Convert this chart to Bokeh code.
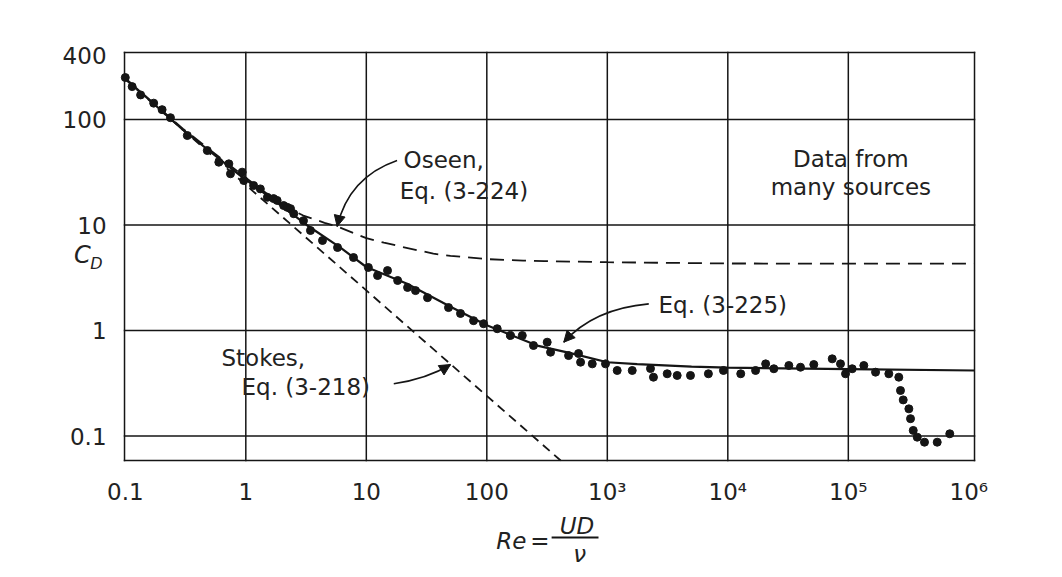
from bokeh.plotting import figure
from bokeh.models import (Range1d, FixedTicker, CustomJSTickFormatter, Label, Arrow,
                          NormalHead, ColumnDataSource)
from bokeh.embed import file_html
from bokeh.resources import INLINE

# ---------------- data ----------------
x_tick_vals = [0.1, 1, 10, 100, 1e3, 1e4, 1e5, 1e6]
x_tick_labels = ["0.1", "1", "10", "100", "10³", "10⁴", "10⁵", "10⁶"]
y_tick_vals = [0.1, 1, 10, 100, 400]
y_tick_labels = ["0.1", "1", "10", "100", "400"]

# extent of the boxed plotting area (data units) and its grid
box_x = [0.0985, 1.115e6]
box_y = [0.0586, 431]
grid_x = [1, 10, 100, 1e3, 1e4, 1e5]
grid_y = [0.1, 1, 10, 100]

stokes_re = [0.1, 1, 10, 100, 410]
stokes_cd = [240, 24, 2.4, 0.24, 0.0586]

oseen_re = [0.1, 0.3, 1, 2, 3, 4.5, 6, 10, 14, 20, 36, 50, 100, 200, 300, 1000, 1e4, 1e5, 1.115e6]
oseen_cd = [245, 82, 28, 15.5, 12.3, 10.5, 9.5, 7.5, 6.8, 6.2, 5.35, 5.1, 4.75, 4.6, 4.55, 4.44, 4.32, 4.3, 4.3]

eq225_re = [0.1, 0.3, 0.9, 2, 3.24, 6.1, 10, 21.8, 50, 100, 262, 495, 1000, 1770, 5000, 1e4, 1e5, 1.115e6]
eq225_cd = [245, 80, 29.4, 15, 9.9, 6.1, 4.0, 2.77, 1.68, 1.12, 0.72, 0.61, 0.50, 0.48, 0.455, 0.445, 0.43, 0.418]

data_re = [0.1, 0.114, 0.134, 0.172, 0.202, 0.237, 0.327, 0.479, 0.597, 0.723, 0.746, 0.933,
           0.962, 1.16, 1.32, 1.51, 1.70, 1.82, 2.06, 2.21, 2.35, 2.50, 3.01, 3.44, 4.33, 5.77,
           7.83, 10.4, 12.4, 15.0, 18.2, 22.0, 25.6, 32.2, 48.1, 60.5, 77.6, 94.0, 122, 157,
           197, 244, 317, 338, 477, 577, 600, 750, 966, 1208, 1610, 2282, 2415, 3140, 3800,
           4900, 6900, 9200, 12800, 17000, 20600, 24100, 32100, 40100, 51700, 73500, 86100,
           94800, 107700, 134500, 168300, 216800, 262400, 271000, 285500, 318000, 328300,
           345700, 373200, 428700, 546700, 695000]
data_cd = [250, 205, 171, 143, 124, 104, 70.5, 50.8, 39.4, 38.0, 30.6, 31.7,
           26.4, 23.7, 22.0, 18.3, 17.8, 17.1, 15.3, 14.7, 14.3, 12.8, 11.0, 8.87, 7.13, 6.12,
           4.92, 3.96, 3.32, 3.70, 2.98, 2.56, 2.39, 2.05, 1.65, 1.45, 1.24, 1.16, 1.04, 0.897,
           0.897, 0.721, 0.775, 0.623, 0.579, 0.605, 0.501, 0.483, 0.483, 0.418, 0.418, 0.436,
           0.361, 0.389, 0.375, 0.375, 0.389, 0.418, 0.389, 0.418, 0.483, 0.434, 0.466, 0.449,
           0.476, 0.539, 0.483, 0.389, 0.434, 0.466, 0.403, 0.389, 0.361, 0.270, 0.220, 0.181,
           0.146, 0.113, 0.0975, 0.0874, 0.0874, 0.105]

INK = "#151515"
TXT = "#222222"
FONT = "DejaVu Sans"

# frame covers the whole canvas; the boxed area and its grid are drawn as segments
p = figure(width=1062, height=577, x_axis_type="log", y_axis_type="log",
           x_range=Range1d(0.00921, 5.99e6), y_range=Range1d(0.00456, 1343),
           output_backend="svg", toolbar_location=None,
           min_border_left=0, min_border_right=0, min_border_top=0, min_border_bottom=0)
p.background_fill_color = "white"
p.border_fill_color = "white"
p.outline_line_color = None
p.xgrid.visible = False
p.ygrid.visible = False

# axes fixed on the box edges
p.xaxis.fixed_location = box_y[0]
p.yaxis.fixed_location = box_x[0]
for ax, vals, labs in [(p.xaxis[0], x_tick_vals, x_tick_labels), (p.yaxis[0], y_tick_vals, y_tick_labels)]:
    ax.ticker = FixedTicker(ticks=vals)
    ax.formatter = CustomJSTickFormatter(args=dict(vals=vals, labs=labs), code="""
        for (let i = 0; i < vals.length; i++) {
            if (Math.abs(Math.log10(tick) - Math.log10(vals[i])) < 1e-6) return labs[i];
        }
        return '';
    """)
    ax.major_tick_line_color = None
    ax.minor_tick_line_color = None
    ax.axis_line_color = None
    ax.major_label_text_font = FONT
    ax.major_label_text_font_size = "23px"
    ax.major_label_text_color = TXT
    ax.major_label_standoff = 12

# grid lines and box
vx = grid_x + box_x
hy = grid_y + box_y
p.segment(x0=vx, y0=[box_y[0]] * len(vx), x1=vx, y1=[box_y[1]] * len(vx),
          line_color=INK, line_width=1.5, line_cap="square")
p.segment(x0=[box_x[0]] * len(hy), y0=hy, x1=[box_x[1]] * len(hy), y1=hy,
          line_color=INK, line_width=1.5, line_cap="square")

# curves
p.line(stokes_re, stokes_cd, line_color=INK, line_width=1.8, line_dash="9 6")
p.line(oseen_re, oseen_cd, line_color=INK, line_width=1.8, line_dash="14 8")
p.line(eq225_re, eq225_cd, line_color=INK, line_width=2.2)
p.scatter(data_re, data_cd, size=8, fill_color=INK, line_color=INK, marker="circle")

# annotation arrows (curved)
arr = ColumnDataSource(dict(
    x0=[18.0, 16.9, 2208], y0=[40.9, 0.313, 1.79],
    x1=[5.73, 50.0, 435], y1=[9.68, 0.476, 0.775],
    cx=[7.16, 32.0, 773], cy=[28.4, 0.348, 1.61]))
p.quadratic(x0="x0", y0="y0", x1="x1", y1="y1", cx="cx", cy="cy", source=arr,
            line_color=INK, line_width=1.6)
for i in range(3):
    p.add_layout(Arrow(end=NormalHead(size=11, fill_color=INK, line_color=INK),
                       x_start=arr.data["cx"][i], y_start=arr.data["cy"][i],
                       x_end=arr.data["x1"][i], y_end=arr.data["y1"][i], line_alpha=0))

def lab(x, y, t, size="23px", align="left", style="normal"):
    p.add_layout(Label(x=x, y=y, text=t, text_font=FONT, text_font_size=size,
                       text_color=TXT, text_align=align, text_baseline="middle",
                       text_font_style=style))

lab(20.4, 40.9, "Oseen,")
lab(18.9, 21.2, "Eq. (3-224)")
lab(0.628, 0.543, "Stokes,")
lab(0.921, 0.290, "Eq. (3-218)")
lab(2661, 1.76, "Eq. (3-225)")
lab(105000, 42.7, "Data from", align="center")
lab(105000, 22.7, "many sources", align="center")

# axis titles
lab(0.0441, 5.25, "C", size="24px", align="center", style="italic")
lab(0.0577, 4.32, "D", size="16px", align="center", style="italic")
lab(160, 0.0102, "Re", align="center", style="italic")
lab(276, 0.0102, "=", align="center")
lab(560, 0.01418, "UD", align="center", style="italic")
lab(590, 0.00769, "ν", align="center", style="italic")
p.add_layout(Arrow(start=None, end=None, x_start=345, y_start=0.01091, x_end=845, y_end=0.01091,
                   line_color=INK, line_width=2))

open("out.html", "w").write(file_html(p, INLINE))
